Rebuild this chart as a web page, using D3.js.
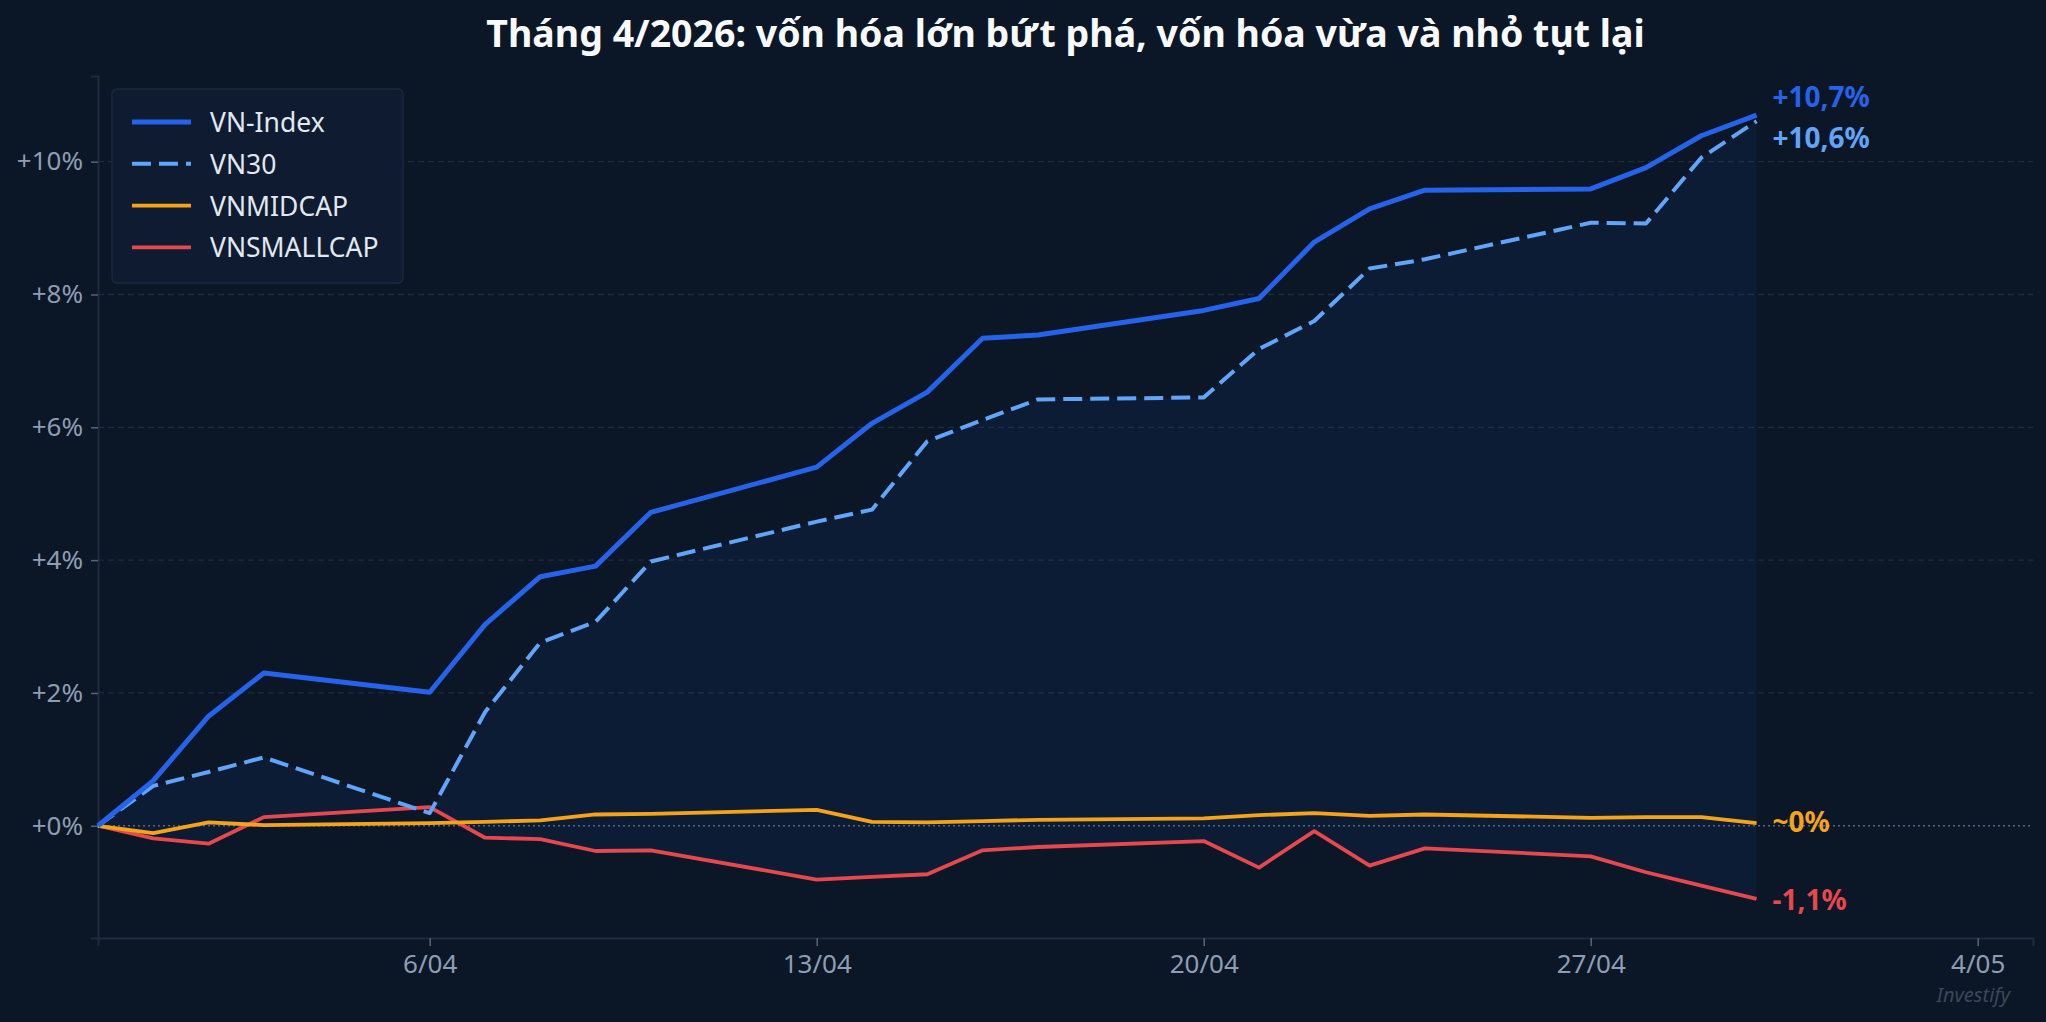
<!DOCTYPE html>
<html>
<head>
<meta charset="utf-8">
<script src="https://cdn.jsdelivr.net/npm/d3@7"></script>
<style>
  html, body { margin: 0; padding: 0; background: #0b1626; }
  svg { display: block; font-family: "Noto Sans", sans-serif; }
</style>
</head>
<body>
<script>
// trading days, April 2026 (first point = base 31/03)
const dates = ["2026-03-31", "2026-04-01", "2026-04-02", "2026-04-03",
  "2026-04-06", "2026-04-07", "2026-04-08", "2026-04-09", "2026-04-10",
  "2026-04-13", "2026-04-14", "2026-04-15", "2026-04-16", "2026-04-17",
  "2026-04-20", "2026-04-21", "2026-04-22", "2026-04-23", "2026-04-24",
  "2026-04-27", "2026-04-28", "2026-04-29", "2026-04-30"];

// cumulative change, %
const vnIndex = [0, 0.68, 1.65, 2.30, 2.01, 3.03, 3.75, 3.91, 4.72, 5.40, 6.06, 6.53,
  7.34, 7.39, 7.76, 7.94, 8.79, 9.29, 9.57, 9.59, 9.91, 10.39, 10.70];
const vn30 = [0, 0.60, 0.81, 1.03, 0.19, 1.71, 2.76, 3.07, 3.98, 4.58, 4.76, 5.79,
  6.11, 6.42, 6.45, 7.18, 7.60, 8.39, 8.53, 9.08, 9.07, 10.06, 10.61];
const vnMidcap = [0, -0.11, 0.05, 0.01, 0.04, 0.06, 0.08, 0.17, 0.18, 0.24, 0.06, 0.05,
  0.07, 0.09, 0.11, 0.16, 0.19, 0.15, 0.17, 0.12, 0.13, 0.13, 0.04];
const vnSmallcap = [0, -0.19, -0.27, 0.13, 0.28, -0.18, -0.20, -0.38, -0.37, -0.81, -0.77, -0.73,
  -0.37, -0.32, -0.23, -0.63, -0.08, -0.60, -0.34, -0.46, -0.70, -0.90, -1.10];

const seriesNames = ["VN-Index", "VN30", "VNMIDCAP", "VNSMALLCAP"];
const endLabels = ["+10,7%", "+10,6%", "~0%", "-1,1%"];
const yTicks = [0, 2, 4, 6, 8, 10];
const xEnd = "2026-05-05";

const title = "Tháng 4/2026: vốn hóa lớn bứt phá, vốn hóa vừa và nhỏ tụt lại";

const W = 2046, H = 1022;
const margin = {top: 76, right: 13, bottom: 84, left: 98};

const parse = d3.utcParse("%Y-%m-%d");
const xs = dates.map(parse);

const series = [
  {name: seriesNames[0], values: vnIndex, color: "#2563eb", width: 5, dash: null, label: endLabels[0], dy: -19},
  {name: seriesNames[1], values: vn30, color: "#60a5fa", width: 4, dash: "19,8", label: endLabels[1], dy: 16},
  {name: seriesNames[2], values: vnMidcap, color: "#f5a31a", width: 3.8, dash: null, label: endLabels[2], dy: -2},
  {name: seriesNames[3], values: vnSmallcap, color: "#e5484d", width: 3.8, dash: null, label: endLabels[3], dy: 0}
];

const svg = d3.select("body").append("svg")
  .attr("width", W)
  .attr("height", H);

svg.append("rect").attr("width", W).attr("height", H).attr("fill", "#0b1626");

const x = d3.scaleUtc()
  .domain([xs[0], parse(xEnd)])
  .range([margin.left, W - margin.right]);

const allVals = vnIndex.concat(vn30, vnMidcap, vnSmallcap);
const lo = d3.min(allVals), hi = d3.max(allVals);
const pad = (hi - lo) * 0.05;
const y = d3.scaleLinear()
  .domain([lo - pad, hi + pad])
  .range([H - margin.bottom, margin.top]);

// grid
svg.append("g")
  .selectAll("line")
  .data(yTicks.filter(d => d !== 0))
  .join("line")
  .attr("x1", margin.left).attr("x2", W - margin.right)
  .attr("y1", d => y(d)).attr("y2", d => y(d))
  .attr("stroke", "#1f2b3e")
  .attr("stroke-width", 1.3)
  .attr("stroke-dasharray", "6,4");

// band between VN30 and VNSMALLCAP
const band = d3.area()
  .x((d, i) => x(xs[i]))
  .y0((d, i) => y(vnSmallcap[i]))
  .y1(d => y(d));
svg.append("path")
  .datum(vn30)
  .attr("d", band)
  .attr("fill", "#2563eb")
  .attr("fill-opacity", 0.08);

// zero line
svg.append("line")
  .attr("x1", margin.left).attr("x2", W - margin.right)
  .attr("y1", y(0)).attr("y2", y(0))
  .attr("stroke", "#56657c")
  .attr("stroke-width", 1.3)
  .attr("stroke-dasharray", "2,3");

// axes
const yAxis = d3.axisLeft(y)
  .tickValues(yTicks)
  .tickFormat(d => "+" + d + "%")
  .tickSize(7)
  .tickPadding(8);
const gy = svg.append("g")
  .attr("transform", `translate(${margin.left},0)`)
  .call(yAxis);

const xAxis = d3.axisBottom(x)
  .ticks(d3.utcMonday.every(1))
  .tickFormat(d3.utcFormat("%-d/%m"))
  .tickSize(8)
  .tickPadding(9);
const gx = svg.append("g")
  .attr("transform", `translate(0,${H - margin.bottom})`)
  .call(xAxis);

[gx, gy].forEach(g => {
  g.select(".domain").attr("stroke", "#1f2b3e").attr("stroke-width", 2);
  g.selectAll(".tick line").attr("stroke", "#56657c").attr("stroke-width", 1.5);
  g.selectAll(".tick text")
    .attr("fill", "#8e9db4")
    .attr("font-size", 26)
    .attr("font-family", "Noto Sans");
});

// lines
const line = d3.line()
  .x((d, i) => x(xs[i]))
  .y(d => y(d));

series.slice().reverse().forEach(s => {
  svg.append("path")
    .datum(s.values)
    .attr("d", line)
    .attr("fill", "none")
    .attr("stroke", s.color)
    .attr("stroke-width", s.width)
    .attr("stroke-linejoin", "round")
    .attr("stroke-dasharray", s.dash);
});

// end labels
const last = xs.length - 1;
svg.append("g")
  .selectAll("text")
  .data(series)
  .join("text")
  .attr("x", x(xs[last]) + 16)
  .attr("y", d => y(d.values[last]) + d.dy)
  .attr("dominant-baseline", "central")
  .attr("fill", d => d.color)
  .attr("font-size", 28)
  .attr("font-weight", "bold")
  .text(d => d.label);

// legend
const lg = svg.append("g");
lg.append("rect")
  .attr("x", 112).attr("y", 89)
  .attr("width", 291).attr("height", 194)
  .attr("rx", 5)
  .attr("fill", "#0f1b30")
  .attr("stroke", "#1c2940")
  .attr("stroke-width", 1.3);
const items = lg.selectAll("g")
  .data(series)
  .join("g")
  .attr("transform", (d, i) => `translate(0,${122 + i * 41.8})`);
items.append("line")
  .attr("x1", 132).attr("x2", 191)
  .attr("stroke", d => d.color)
  .attr("stroke-width", d => d.width)
  .attr("stroke-dasharray", d => d.dash);
items.append("text")
  .attr("x", 210)
  .attr("dominant-baseline", "central")
  .attr("fill", "#e2e8f0")
  .attr("font-size", 26.5)
  .text(d => d.name);

// title
svg.append("text")
  .attr("x", (margin.left + W - margin.right) / 2)
  .attr("y", 47)
  .attr("text-anchor", "middle")
  .attr("fill", "#f8fafc")
  .attr("font-size", 37.5)
  .attr("font-weight", "bold")
  .text(title);

// watermark
svg.append("text")
  .attr("x", 2010)
  .attr("y", 1002)
  .attr("text-anchor", "end")
  .attr("fill", "#3c475a")
  .attr("font-size", 20)
  .attr("font-style", "italic")
  .text("Investify");
</script>
</body>
</html>
